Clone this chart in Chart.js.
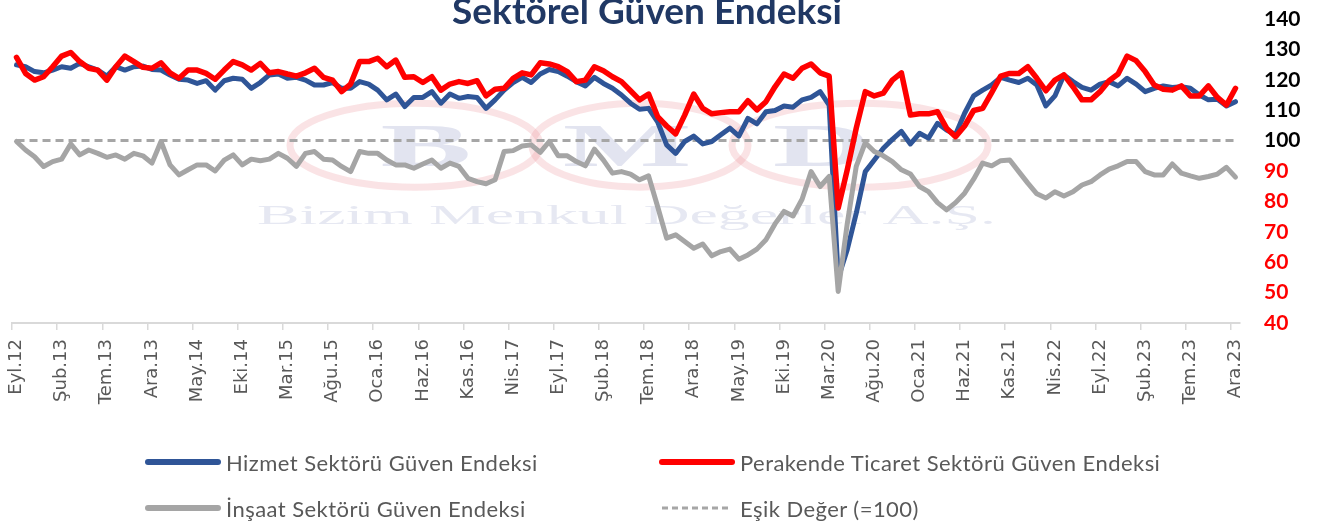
<!DOCTYPE html>
<html lang="tr">
<head>
<meta charset="utf-8">
<title>Sektörel Güven Endeksi</title>
<script src="https://cdn.jsdelivr.net/npm/chart.js@4.4.1/dist/chart.umd.min.js"></script>
<style>
  html, body { margin: 0; padding: 0; background: #ffffff; }
  #wrap { position: relative; width: 1323px; height: 522px; overflow: hidden; }
  #chart { position: absolute; left: 0; top: 0; }
  #title {
    position: absolute; left: 0; width: 1294px; top: -10px;
    text-align: center; font: bold 37px Lato, "Open Sans", sans-serif;
    color: #203864; line-height: 40px;
  }
  .lg { position: absolute; display: flex; align-items: center; height: 30px;
        font: 22px Lato, "Open Sans", sans-serif; letter-spacing: 0.45px;
        color: #595959; white-space: nowrap; }
  .lg svg { margin-right: 5px; }
</style>
</head>
<body>
<div id="wrap">
  <canvas id="chart" width="1323" height="522"></canvas>
  <div id="title">Sektörel Güven Endeksi</div>
  <div id="legend"></div>
</div>
<script>
// month names, first month is Eyl.12 (Sep 2012), last is Ara.23
const monthNames = ["Oca", "Şub", "Mar", "Nis", "May", "Haz", "Tem", "Ağu", "Eyl", "Eki", "Kas", "Ara"];
const startMonth = 8;
const startYear = 12;
const monthCount = 136;

const yTicks = [40, 50, 60, 70, 80, 90, 100, 110, 120, 130, 140];
const threshold = 100;

const hizmet = [
  124.9, 124.3, 122.7, 122.3, 123.2, 124.3, 123.8, 125.4, 124.3, 123.2, 121.2, 124.3,
  123.2, 124.3, 124.5, 123.4, 123.2, 121.6, 120.2, 119.9, 118.8, 119.7, 116.6,
  119.7, 120.5, 120.2, 117.2, 119.1, 121.6, 121.9, 120.5, 120.8, 119.9, 118.3, 118.3,
  119.1, 117.2, 117.2, 119.4, 118.6, 116.6, 113.4, 115.3, 111.2, 114.2,
  114.2, 116.1, 112.3, 115.3, 113.9, 114.5, 114.2, 110.6, 113.4, 116.6, 119.1, 120.8,
  119.1, 121.9, 123.4, 122.7, 121.2, 119.4, 118.0, 120.8, 118.8, 117.2,
  115.0, 112.3, 110.3, 110.6, 106.2, 98.6, 95.8, 99.7, 101.5, 98.9, 99.7, 101.9,
  104.1, 101.5, 107.3, 105.5, 109.5, 109.9, 111.4, 111.0, 113.4, 114.2,
  116.1, 111.7, 54.8, 64.1, 76.1, 89.8, 93.6, 97.5, 100.4, 103.0, 98.9, 102.4,
  100.8, 105.7, 103.5, 102.0, 109.0, 114.7, 116.6, 118.3, 120.8,
  119.9, 119.1, 120.5, 118.3, 111.4, 114.7, 121.6, 119.4, 117.5, 116.6, 118.6, 119.4,
  118.0, 120.5, 118.6, 116.1, 117.2, 118.0, 117.5, 117.7, 117.2, 115.0, 113.4, 113.6,
  111.4, 112.8
];

const perakende = [
  127.4, 122.1, 119.9, 121.0, 124.3, 127.8, 129.0, 126.0, 123.8, 123.2, 119.9, 124.3,
  127.8, 126.0, 124.1, 123.8, 125.6, 122.3, 120.5, 123.2, 123.2, 122.1, 120.2,
  123.2, 126.0, 124.9, 123.2, 125.4, 122.3, 122.7, 121.9, 121.2, 122.3, 123.8, 120.8,
  119.9, 116.1, 118.6, 126.0, 126.0, 127.1, 124.3, 126.5, 120.8, 121.0,
  119.1, 121.0, 116.6, 118.6, 119.4, 118.8, 119.7, 114.7, 116.9, 117.2, 120.5, 122.3,
  121.6, 125.6, 125.2, 124.3, 122.7, 119.4, 119.9, 124.3, 123.0, 121.0,
  119.4, 116.4, 113.4, 115.3, 107.9, 104.8, 102.2, 108.4, 115.3, 110.6, 108.8, 109.2,
  109.5, 109.5, 113.1, 110.1, 112.8, 117.7, 121.9, 120.5, 123.8, 125.2,
  122.3, 121.2, 77.8, 90.4, 104.1, 116.1, 114.7, 115.6, 119.9, 122.3, 108.4, 108.8,
  108.8, 109.5, 104.1, 101.3, 104.8, 109.9, 110.6, 115.8, 121.2,
  122.1, 122.1, 124.3, 120.5, 116.4, 119.9, 121.6, 117.7, 113.4, 113.4, 116.1, 119.7,
  121.9, 127.8, 126.3, 122.7, 118.3, 116.9, 116.6, 118.0, 114.7, 114.7, 118.0, 114.2,
  111.7, 117.2
];

const insaat = [
  99.7, 96.9, 94.7, 91.5, 93.1, 93.9, 98.9, 95.3, 96.9, 95.8, 94.5, 95.3,
  93.9, 95.8, 95.0, 92.6, 99.7, 92.0, 88.7, 90.4, 92.0, 92.0, 90.0,
  93.6, 95.3, 92.0, 93.9, 93.4, 93.9, 95.8, 94.2, 91.5, 95.8, 96.4, 93.9,
  93.6, 91.5, 89.8, 96.4, 95.8, 95.8, 93.6, 92.0, 92.0, 90.9,
  92.3, 93.6, 90.9, 92.6, 91.5, 87.6, 86.5, 85.8, 87.1, 96.4, 96.7, 98.2,
  98.6, 96.1, 99.7, 95.0, 95.0, 93.1, 91.7, 97.2, 93.6, 89.3,
  89.8, 89.0, 87.1, 88.4, 78.3, 67.9, 69.0, 66.8, 64.6, 66.0, 62.1, 63.5,
  64.3, 61.0, 62.4, 64.3, 67.4, 72.6, 76.7, 75.2, 80.7, 89.8,
  84.9, 88.2, 50.4, 72.6, 91.5, 99.3, 96.4, 95.0, 93.1, 90.4, 89.0, 84.9,
  83.2, 79.6, 77.2, 79.6, 82.7, 87.3, 92.6, 91.7, 93.4,
  93.6, 89.8, 86.0, 82.5, 81.1, 83.2, 81.8, 83.2, 85.4, 86.5, 88.7, 90.6,
  91.7, 93.1, 93.1, 89.8, 88.7, 88.7, 92.3, 89.3, 88.4, 87.6, 88.2, 89.0,
  91.2, 88.0
];

const labels = [];
for (let i = 0; i < monthCount; i++) {
  const m = startMonth + i;
  labels.push(monthNames[m % 12] + "." + (startYear + Math.floor(m / 12)));
}

const COLORS = {
  blue: "#2f5597",
  red: "#ff0000",
  gray: "#a5a5a5",
  dash: "#a6a6a6",
  axis: "#d9d9d9",
  text: "#595959",
};

// faint company watermark behind the lines
const watermark = {
  id: "watermark",
  beforeDatasetsDraw(chart) {
    const { ctx } = chart;
    const cy = chart.scales.y.getPixelForValue(98.5);
    ctx.save();
    ctx.strokeStyle = "rgba(235,140,145,0.24)";
    ctx.lineWidth = 7;
    [[415, 125], [640, 108], [860, 128]].forEach(([cx, rx]) => {
      ctx.beginPath();
      ctx.ellipse(cx, cy, rx, 42, 0, 0, Math.PI * 2);
      ctx.stroke();
    });
    ctx.fillStyle = "rgba(185,190,220,0.42)";
    ctx.font = "bold 62px 'Liberation Serif', serif";
    ctx.textAlign = "center";
    ctx.textBaseline = "alphabetic";
    [["B", 426], ["M", 627], ["D", 822]].forEach(([ch, x]) => {
      ctx.save();
      ctx.translate(x, cy + 21);
      ctx.scale(2.2, 1);
      ctx.fillText(ch, 0, 0);
      ctx.restore();
    });

    const wm = "Bizim Menkul Değerler A.Ş.";
    ctx.font = "28px 'Liberation Serif', serif";
    ctx.textAlign = "left";
    const w = ctx.measureText(wm).width;
    ctx.translate(257, cy + 79);
    ctx.scale(739 / w, 1);
    ctx.fillStyle = "rgba(195,200,225,0.42)";
    ctx.fillText(wm, 0, 0);
    ctx.restore();
  },
};

const datasets = [
  {
    label: "İnşaat Sektörü Güven Endeksi",
    data: insaat,
    borderColor: COLORS.gray,
    borderWidth: 5,
    order: 0,
  },
  {
    label: "Perakende Ticaret Sektörü Güven Endeksi",
    data: perakende,
    borderColor: COLORS.red,
    borderWidth: 5.5,
    order: 1,
  },
  {
    label: "Hizmet Sektörü Güven Endeksi",
    data: hizmet,
    borderColor: COLORS.blue,
    borderWidth: 5,
    order: 2,
  },
  {
    label: "Eşik Değer (=100)",
    data: labels.map(() => threshold),
    borderColor: COLORS.dash,
    borderWidth: 3,
    borderDash: [8, 5],
    order: 3,
  },
].map((d) => ({
  ...d,
  pointRadius: 0,
  tension: 0,
  fill: false,
  borderJoinStyle: "round",
  borderCapStyle: d.borderDash ? "butt" : "round",
}));

new Chart(document.getElementById("chart"), {
  type: "line",
  data: { labels, datasets },
  plugins: [watermark],
  options: {
    responsive: false,
    animation: false,
    devicePixelRatio: 1,
    layout: { padding: { left: 12, top: 19, right: 0, bottom: 0 } },
    plugins: {
      legend: { display: false },
      title: { display: false },
      tooltip: { enabled: false },
    },
    scales: {
      x: {
        offset: true,
        afterFit(scale) { scale.height = 199; },
        grid: {
          offset: true,
          drawOnChartArea: false,
          drawTicks: true,
          tickLength: 7,
          lineWidth: 1.5,
          color: (ctx) => (ctx.index % 5 === 0 ? COLORS.axis : "rgba(0,0,0,0)"),
        },
        border: { display: true, color: COLORS.axis, width: 2 },
        ticks: {
          autoSkip: false,
          maxRotation: 90,
          minRotation: 90,
          padding: 9,
          color: COLORS.text,
          font: { family: "'DejaVu Sans'", size: 18 },
          callback: (value, index) => (index % 5 === 0 ? labels[index] : ""),
        },
      },
      y: {
        position: "right",
        min: yTicks[0],
        max: yTicks[yTicks.length - 1],
        afterFit(scale) {
          scale.width = 83;
          // tick padding should not push the plot area down
          scale.paddingTop = 0;
          scale.paddingBottom = 0;
        },
        afterBuildTicks(scale) { scale.ticks = yTicks.map((v) => ({ value: v })); },
        grid: { display: false, drawTicks: false },
        border: { display: false },
        ticks: {
          padding: 24,
          font: { family: "Lato", size: 21, weight: "bold" },
          color: (ctx) => (ctx.tick && ctx.tick.value >= 100 ? "#000000" : "#ff0000"),
        },
      },
    },
  },
});

// legend laid out in two columns like the original
const legendSpec = [
  { ds: datasets[2], left: 145, top: 447 },
  { ds: datasets[1], left: 659, top: 447 },
  { ds: datasets[0], left: 145, top: 493 },
  { ds: datasets[3], left: 659, top: 493 },
];
const legendEl = document.getElementById("legend");
legendSpec.forEach(({ ds, left, top }) => {
  const item = document.createElement("div");
  item.className = "lg";
  item.style.left = left + "px";
  item.style.top = top + "px";
  const dash = ds.borderDash ? ' stroke-dasharray="6 4"' : "";
  const sw = ds.borderDash ? 3 : 6;
  const cap = ds.borderDash ? "butt" : "round";
  item.innerHTML =
    '<svg width="76" height="10"><line x1="3" y1="5" x2="73" y2="5" stroke="' + ds.borderColor +
    '" stroke-width="' + sw + '" stroke-linecap="' + cap + '"' + dash + "/></svg><span></span>";
  item.querySelector("span").textContent = ds.label;
  legendEl.appendChild(item);
});
</script>
</body>
</html>
